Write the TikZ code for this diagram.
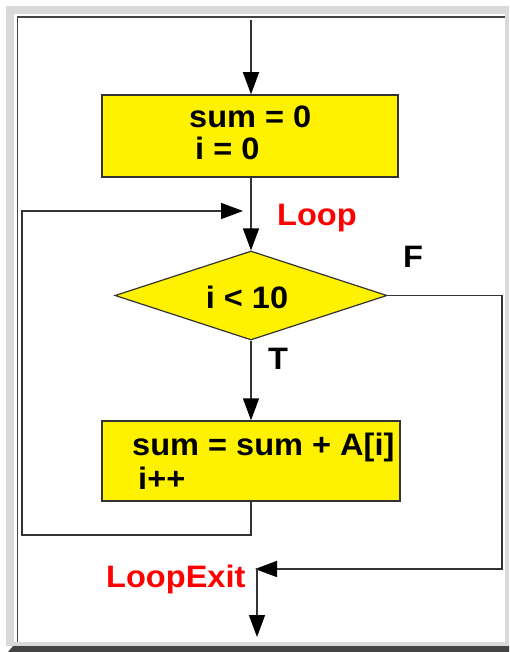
\documentclass[tikz,border=0pt]{standalone}
\usepackage{fontspec}
\setmainfont[FakeStretch=1.05]{Liberation Sans}
\usetikzlibrary{arrows.meta,shapes.geometric}
\definecolor{framegray}{HTML}{D9D9D9}
\definecolor{framedark}{HTML}{444444}
\definecolor{linegray}{HTML}{333333}
\begin{document}
\begin{tikzpicture}[x=1pt,y=-1pt,
  conn/.style={draw=linegray, line width=1.5pt},
  arr/.style={conn, -{Triangle[length=22pt,width=16pt,color=black]}},
  box/.style={draw=linegray, line width=1.5pt, fill=yellow, inner sep=0pt},
  txt/.style={font=\fontsize{31}{31}\bfseries\selectfont, inner sep=0pt},
  redlbl/.style={txt, text=red}
]
\useasboundingbox (0,0) rectangle (509,652);
% frame
\fill[framegray] (6,6) rectangle (509,646);
\fill[white] (14,14) rectangle (505,642);
\fill[framedark] (17,16) rectangle (505,18);
\fill[framedark] (17,16) rectangle (18.2,642);
\fill[framedark] (13,646) -- (509,646) -- (509,652) -- (8,652) -- cycle;

% nodes
\node[box, minimum width=296pt, minimum height=82pt] (init) at (250,136) {};
\node[txt, anchor=base west] (s1) at (189,128) {sum = 0};
\node[txt, anchor=base west] (s2) at (195,160) {i = 0};

\node[diamond, draw=linegray, line width=1.2pt, fill=yellow, minimum width=272pt, minimum height=89pt, inner sep=0pt] (cond) at (251,295.5) {};
\node[txt] (ct) at (247,297) {i < 10};

\node[box, minimum width=298pt, minimum height=80pt] (body) at (251,461) {};
\node[txt, anchor=base west] (b1) at (132,455) {sum = sum + A[i]};
\node[txt, anchor=base west] (b2) at (138,489) {i++};

% labels
\node[redlbl, anchor=base west] (looplbl) at (277,225) {Loop};
\node[txt, anchor=base west] (flbl) at (403,267) {F};
\node[txt, anchor=base west] (tlbl) at (268,369) {T};
\node[redlbl, anchor=base west] (exitlbl) at (106,587) {LoopExit};

% connectors
\coordinate (top) at (251,20);
\coordinate (loopin) at (243,211);
\coordinate (lb) at (22,535);
\coordinate (fr) at (502,569);
\coordinate (exit) at (255,569);
\coordinate (exitv) at (257,568);
\coordinate (exitend) at (257,637);

\draw[arr] (top) -- (top |- init.north);
\draw[arr] (top |- init.south) -- (cond.north);
\draw[arr] (cond.south) -- (body.north);
\draw[arr] (body.south) |- (lb) |- (loopin);
\draw[arr] (cond.east) -| (fr) -- (exit);
\draw[arr] (exitv) -- (exitend);
\end{tikzpicture}
\end{document}
